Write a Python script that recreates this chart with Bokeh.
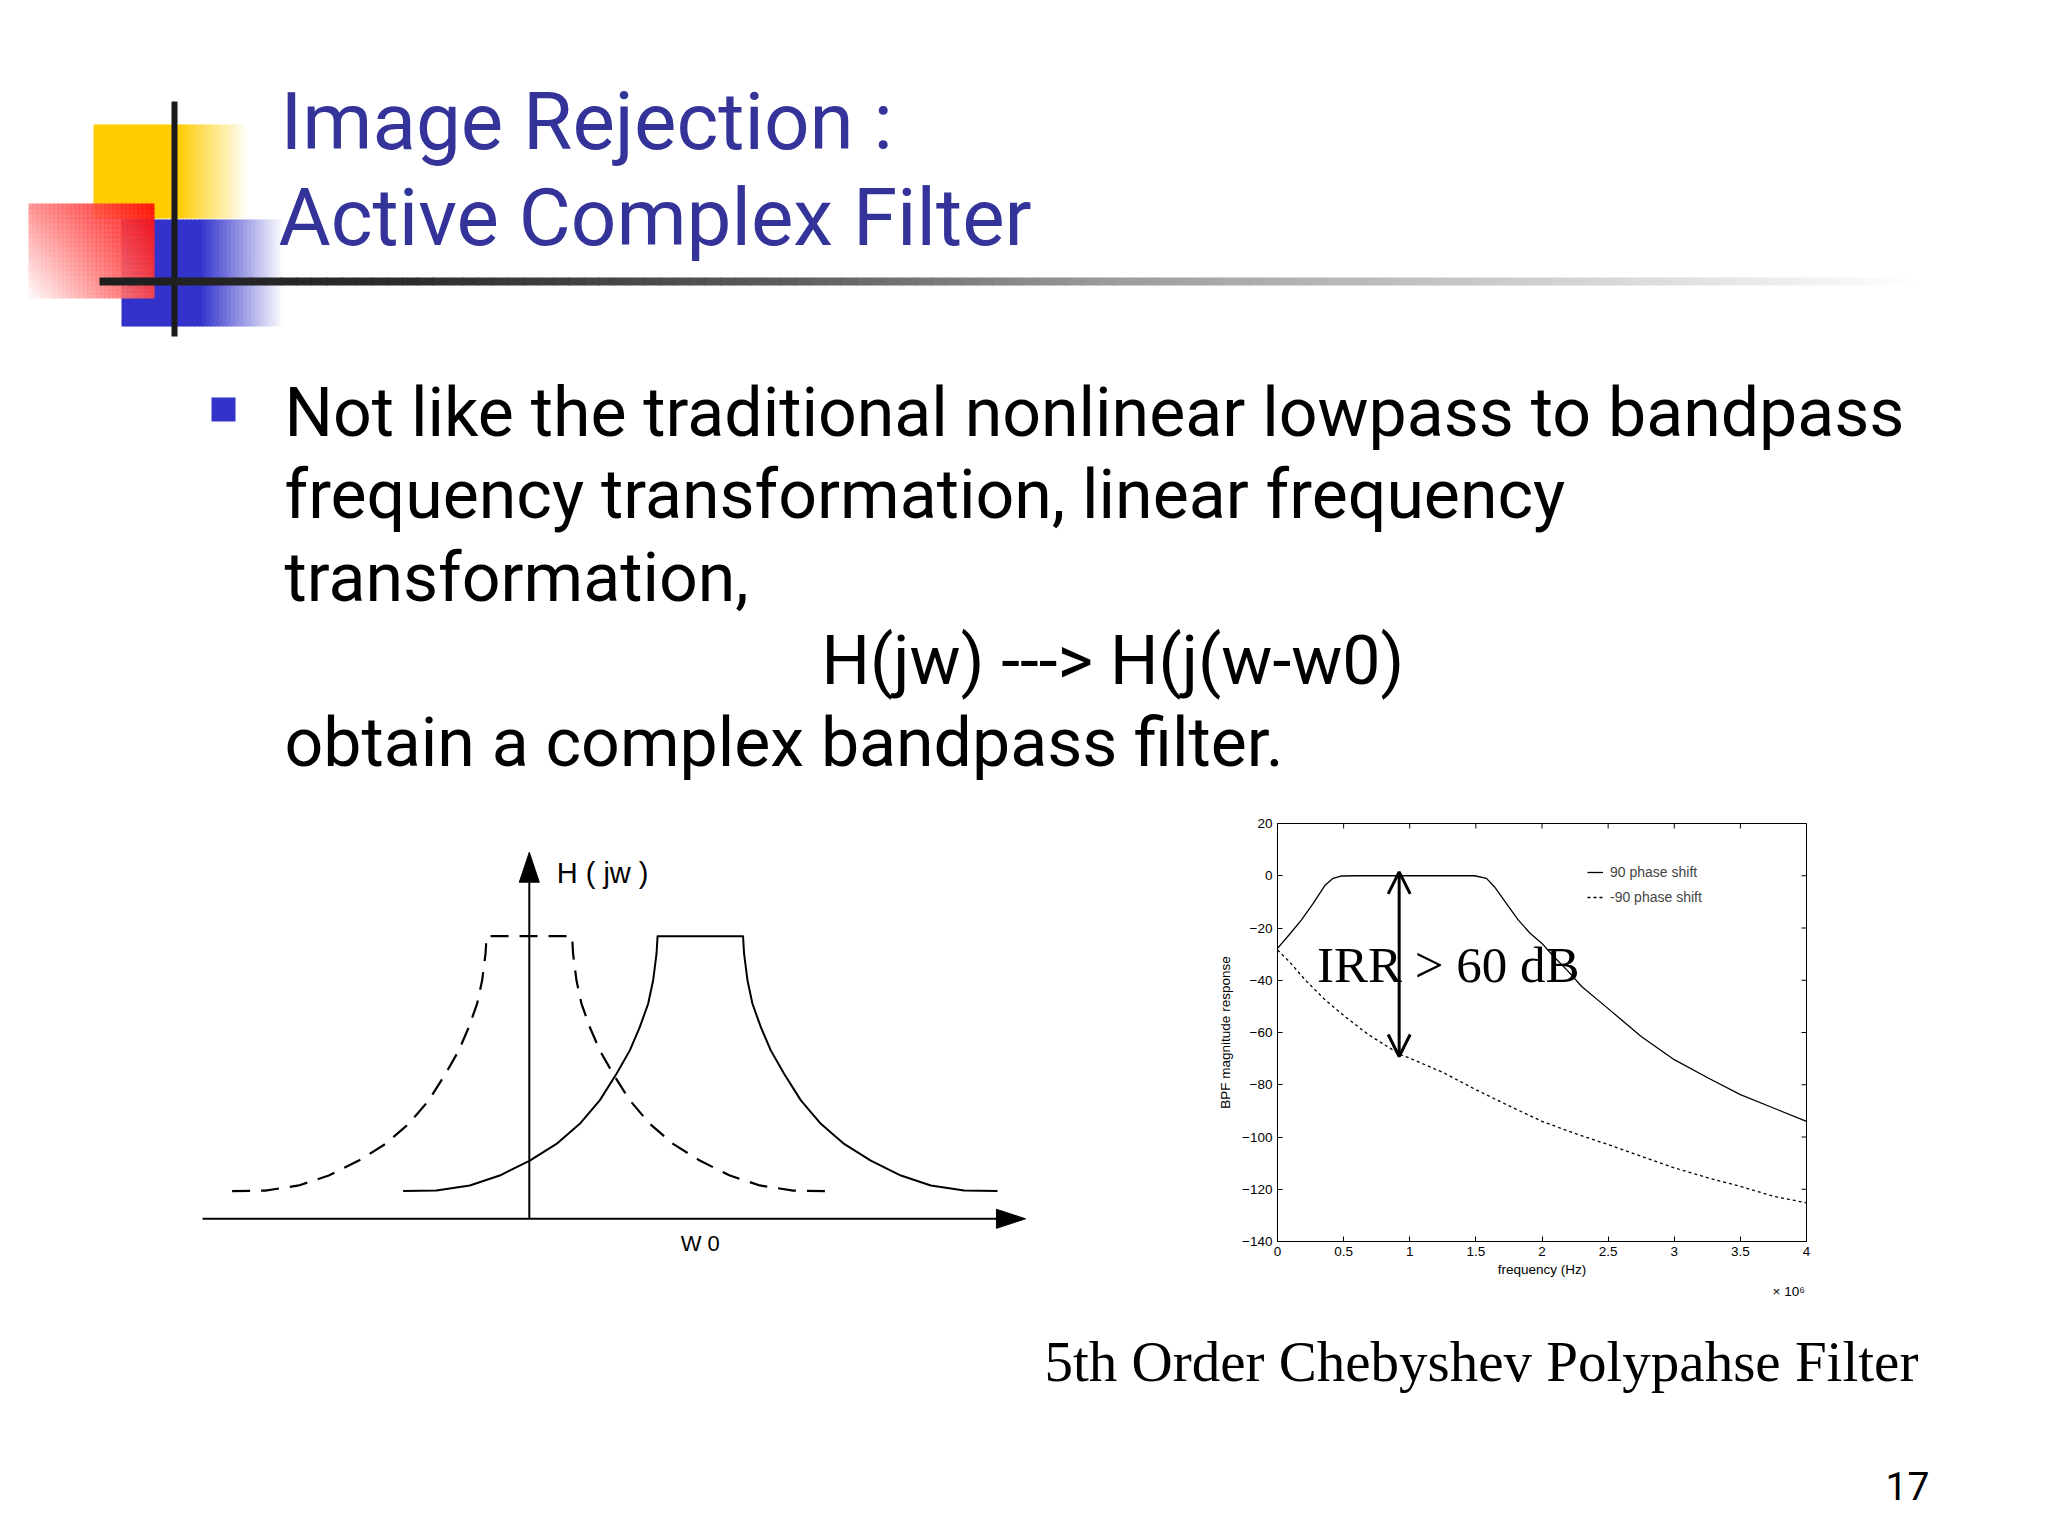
import numpy as np
from bokeh.plotting import figure
from bokeh.layouts import column, row
from bokeh.models import (Range1d, LinearAxis, FixedTicker, Label, Arrow, OpenHead,
                          Legend, LegendItem)
from bokeh.core.properties import value
from bokeh.embed import file_html
from bokeh.resources import INLINE

# ---------------- data ----------------
title_lines = ["Image Rejection :", "Active Complex Filter"]
bullet_lines = ["Not like the traditional nonlinear lowpass to bandpass",
                "frequency transformation, linear frequency",
                "transformation,"]
formula_line = "H(jw) ---> H(j(w-w0)"
last_line = "obtain a complex bandpass filter."
caption = "5th Order Chebyshev Polypahse Filter"
page_no = "17"

# sketch (left): one side of the band shape, offset in units of w0, relative magnitude
profile_offset = [0.250, 0.256, 0.276, 0.305, 0.354, 0.412, 0.490, 0.588, 0.705, 0.841,
                  0.997, 1.173, 1.348, 1.543, 1.738]
profile_mag = [1.0, 0.938, 0.843, 0.761, 0.678, 0.596, 0.513, 0.419, 0.336, 0.265,
               0.206, 0.153, 0.118, 0.100, 0.098]
sketch_centers = {"solid": 1.0, "dashed": 0.0}
sketch_labels = {"y": "H ( jw )", "x": "W 0"}

# measured response (right), frequency in units of 1e6 Hz, magnitude in dB
freq_pos = [0.0, 0.09, 0.18, 0.27, 0.36, 0.42, 0.48, 0.6, 0.8, 1.0, 1.2, 1.4, 1.49, 1.58, 1.64,
            1.73, 1.82, 1.91, 2.0, 2.09, 2.2, 2.3, 2.48, 2.75, 3.0, 3.26, 3.5, 3.75, 4.0]
resp_pos = [-27.8, -22.5, -17.0, -10.6, -3.6, -1.0, -0.1, 0.0, 0.0, 0.0, 0.0, 0.0, 0.0, -1.0, -4.2,
            -10.6, -16.9, -22.0, -25.9, -31.0, -36.7, -42.4, -50.0, -61.5, -70.4, -77.5, -83.8, -88.9, -94.0]
freq_neg = [0.0, 0.09, 0.21, 0.36, 0.51, 0.69, 0.93, 1.0, 1.26, 1.5, 1.76, 2.0, 2.24, 2.5, 2.75,
            3.0, 3.26, 3.5, 3.75, 4.0]
resp_neg = [-28.4, -32.9, -39.9, -47.5, -53.9, -60.9, -68.5, -69.8, -75.5, -81.9, -88.3, -94.0, -98.5,
            -102.9, -107.4, -111.8, -115.7, -118.9, -122.7, -125.2]
series_names = ["90 phase shift", "-90 phase shift"]
x_ticks = [0.0, 0.5, 1.0, 1.5, 2.0, 2.5, 3.0, 3.5, 4.0]
x_tick_labels = ["0", "0.5", "1", "1.5", "2", "2.5", "3", "3.5", "4"]
y_ticks = [-140, -120, -100, -80, -60, -40, -20, 0, 20]
y_tick_labels = ["\u2212140", "\u2212120", "\u2212100", "\u221280", "\u221260", "\u221240", "\u221220", "0", "20"]
x_scale_label = "\u00d7 10\u2076"
irr_freq = 0.92
irr_top, irr_bottom = 1.5, -69.2
irr_text = "IRR > 60 dB"

TITLE_BLUE = "#333399"
SANS = "Roboto"
BASE_SHIFT = 0.36   # alphabetic baseline correction (in em)


def blank(w, h, xr, yr):
    p = figure(width=w, height=h, x_range=Range1d(*xr), y_range=Range1d(*yr),
               output_backend="svg", toolbar_location=None,
               x_axis_location=None, y_axis_location=None,
               min_border=0, min_border_left=0, min_border_right=0,
               min_border_top=0, min_border_bottom=0)
    p.grid.visible = False
    p.outline_line_color = None
    p.background_fill_color = "white"
    p.border_fill_color = "white"
    return p


def mix(c0, c1, t):
    return "#%02x%02x%02x" % tuple(int(round(a + (b - a) * t)) for a, b in zip(c0, c1))


def base(y, size):
    return y - BASE_SHIFT * size


# ---------------- top section (slide pixel coordinates) ----------------
top = blank(2040, 800, (0, 2040), (800, 0))

n = 40
xs = np.linspace(93, 248, n + 1)
cols = []
for i in range(n):
    xm = 0.5 * (xs[i] + xs[i + 1])
    t = 0.0 if xm < 177 else (xm - 177) / (248 - 177)
    cols.append(mix((255, 204, 0), (255, 255, 255), min(1, t)))
top.quad(left=xs[:-1], right=np.minimum(xs[1:] + 1, 248), top=[124] * n, bottom=[218] * n,
         fill_color=cols, line_color=None)

xs = np.linspace(121, 283, n + 1)
cols = []
for i in range(n):
    xm = 0.5 * (xs[i] + xs[i + 1])
    t = 0.0 if xm < 200 else (xm - 200) / (283 - 200)
    cols.append(mix((51, 51, 204), (255, 255, 255), min(1, t)))
top.quad(left=xs[:-1], right=np.minimum(xs[1:] + 1, 283), top=[219] * n, bottom=[326] * n,
         fill_color=cols, line_color=None)

nx, ny = 30, 20
gx = np.linspace(28, 154, nx + 1)
gy = np.linspace(203, 298, ny + 1)
L, R, T, B, C = [], [], [], [], []
for i in range(nx):
    for j in range(ny):
        u = (0.5 * (gx[i] + gx[i + 1]) - 28) / 126
        v = (298 - 0.5 * (gy[j] + gy[j + 1])) / 95
        t = min(1.0, 0.72 * u + 0.45 * v - 0.2 * u * v)
        L.append(gx[i]); R.append(min(gx[i + 1] + 1, 154))
        T.append(gy[j]); B.append(min(gy[j + 1] + 1, 298))
        C.append(mix((255, 252, 252), (255, 0, 0), t))
top.quad(left=L, right=R, top=T, bottom=B, fill_color=C, line_color=None, fill_alpha=0.88)

top.segment(x0=[174], y0=[101], x1=[174], y1=[336], line_color="#1a1a1a", line_width=6)

stops_x = [99, 420, 800, 1100, 1440, 1680, 1915]
stops_c = [30, 45, 95, 154, 196, 224, 255]
nb = 120
bx = np.linspace(99, 1915, nb + 1)
bc = []
for i in range(nb):
    g = np.interp(0.5 * (bx[i] + bx[i + 1]), stops_x, stops_c)
    bc.append(mix((g, g, g), (g, g, g), 0))
top.quad(left=bx[:-1], right=np.minimum(bx[1:] + 1, 1915), top=[277] * nb, bottom=[285] * nb,
         fill_color=bc, line_color=None)

top.text(x=[280, 278], y=[base(150, 80), base(246, 80)], text=title_lines, text_font=value(SANS),
         text_font_size="80px", text_color=TITLE_BLUE, text_baseline="alphabetic")

top.quad(left=[211], right=[235], top=[397], bottom=[421], fill_color="#3333cc", line_color=None)
top.text(x=[284, 284, 284], y=[base(437, 68), base(519, 68), base(602, 68)], text=bullet_lines,
         text_font=value(SANS), text_font_size="68px", text_color="black", text_baseline="alphabetic")
top.text(x=[821], y=[base(685, 68)], text=[formula_line], text_font=value(SANS),
         text_font_size="68px", text_color="black", text_baseline="alphabetic")
top.text(x=[284], y=[base(767, 68)], text=[last_line], text_font=value(SANS),
         text_font_size="68px", text_color="black", text_baseline="alphabetic")

# ---------------- left sketch ----------------
# frame matches the right chart's frame (823..1241 px) because the row aligns frames
left = figure(width=1150, height=510, x_range=Range1d(-3.0924, 3.6327), y_range=Range1d(-0.0803, 1.3988),
              output_backend="svg", toolbar_location=None, y_axis_location=None,
              min_border_left=0, min_border_right=0, min_border_top=23, min_border_bottom=69)
left.grid.visible = False
left.outline_line_color = None
left.background_fill_color = "white"
left.border_fill_color = "white"
lx = left.xaxis[0]
lx.ticker = FixedTicker(ticks=[sketch_centers["solid"]])
lx.major_label_overrides = {sketch_centers["solid"]: sketch_labels["x"]}
lx.axis_line_color = None
lx.major_tick_line_color = None
lx.minor_tick_line_color = None
lx.major_label_standoff = -17
lx.major_label_text_font = "Liberation Sans"
lx.major_label_text_font_size = "22px"
lx.major_label_text_color = "black"


def band(center):
    xs_ = [center - o for o in reversed(profile_offset)] + [center + o for o in profile_offset]
    ys_ = list(reversed(profile_mag)) + list(profile_mag)
    return xs_, ys_


dx, dy = band(sketch_centers["dashed"])
left.line(dx, dy, line_color="black", line_width=2.2, line_dash="18 11", line_join="round")
sx, sy = band(sketch_centers["solid"])
left.line(sx, sy, line_color="black", line_width=2, line_join="round")

h_axis_start, h_axis_head, h_axis_tip = -1.911, 2.732, 2.902
v_axis_head, v_axis_tip = 1.191, 1.297
left.line([h_axis_start, h_axis_head], [0, 0], line_color="black", line_width=2)
left.patch([h_axis_head, h_axis_tip, h_axis_head], [0.0336, 0, -0.0336], fill_color="black", line_color="black")
left.line([0, 0], [0, v_axis_head], line_color="black", line_width=2)
left.patch([-0.0585, 0, 0.0585], [v_axis_head, v_axis_tip, v_axis_head], fill_color="black", line_color="black")
left.text(x=[0.16], y=[1.282], text=[sketch_labels["y"]], text_font=value("Liberation Sans"),
          text_font_size="29px", text_color="black", text_baseline="top")

# ---------------- right chart ----------------
rp = figure(width=890, height=510, x_range=Range1d(0, 4), y_range=Range1d(-140, 20),
            output_backend="svg", toolbar_location=None,
            min_border_left=127, min_border_right=234, min_border_top=23, min_border_bottom=69)
rp.background_fill_color = "white"
rp.border_fill_color = "white"
rp.grid.visible = False
rp.outline_line_color = "black"
rp.outline_line_width = 1

r1 = rp.line(freq_pos, resp_pos, line_color="black", line_width=1.3)
r2 = rp.line(freq_neg, resp_neg, line_color="black", line_width=1.3, line_dash="3 3")

for ax in (rp.xaxis[0], rp.yaxis[0]):
    ax.major_tick_in = 5
    ax.major_tick_out = 0
    ax.minor_tick_line_color = None
    ax.axis_line_color = "black"
    ax.major_label_text_font = "Liberation Sans"
    ax.major_label_text_font_size = "13.5px"
    ax.major_label_text_color = "black"
    ax.axis_label_text_font = "Liberation Sans"
    ax.axis_label_text_font_size = "13.5px"
    ax.axis_label_text_font_style = "normal"
    ax.axis_label_text_color = "black"

rp.xaxis[0].ticker = FixedTicker(ticks=x_ticks)
rp.xaxis[0].major_label_overrides = dict(zip(x_ticks, x_tick_labels))
rp.xaxis[0].axis_label = "frequency (Hz)"
rp.xaxis[0].major_label_standoff = 5
rp.xaxis[0].axis_label_standoff = 3
rp.yaxis[0].ticker = FixedTicker(ticks=y_ticks)
rp.yaxis[0].major_label_overrides = dict(zip([float(v) for v in y_ticks], y_tick_labels))
rp.yaxis[0].axis_label = "BPF magnitude response"
rp.yaxis[0].major_label_standoff = 5
rp.yaxis[0].axis_label_standoff = 6

scale_axis = LinearAxis(ticker=FixedTicker(ticks=[3.865]), major_label_overrides={3.865: x_scale_label},
                        axis_line_color=None, major_tick_line_color=None, minor_tick_line_color=None,
                        major_label_standoff=-2, major_label_text_font="Liberation Sans",
                        major_label_text_font_size="13.5px", major_label_text_color="black")
rp.add_layout(scale_axis, "below")

tick_dx = 5 / (529 / 4.0)
tick_dy = 5 / (418 / 160.0)
rp.segment(x0=[4.0] * len(y_ticks), x1=[4.0 - tick_dx] * len(y_ticks), y0=y_ticks, y1=y_ticks,
           line_color="black", line_width=1)
rp.segment(x0=x_ticks, x1=x_ticks, y0=[20.0] * len(x_ticks), y1=[20.0 - tick_dy] * len(x_ticks),
           line_color="black", line_width=1)

legend = Legend(items=[LegendItem(label=series_names[0], renderers=[r1]),
                       LegendItem(label=series_names[1], renderers=[r2])],
                location=(310, 334), padding=0, margin=0, spacing=5,
                glyph_width=16, glyph_height=20, label_height=20, label_standoff=7,
                border_line_color=None, background_fill_alpha=0,
                label_text_font="Liberation Sans", label_text_font_size="14px")
rp.add_layout(legend)

rp.add_layout(Arrow(start=OpenHead(size=22, line_width=3), end=OpenHead(size=22, line_width=3),
                    x_start=irr_freq, y_start=irr_bottom, x_end=irr_freq, y_end=irr_top,
                    line_width=3, line_color="black"))
irr_shift_db = BASE_SHIFT * 51 / (418 / 160.0)
rp.add_layout(Label(x=0.299, y=-41.1 + irr_shift_db, text=irr_text, text_font="Liberation Serif",
                    text_font_size="51px", text_color="black", text_baseline="alphabetic"))

# ---------------- bottom ----------------
bottom = blank(2040, 218, (0, 2040), (1528, 1310))
bottom.text(x=[1044], y=[base(1382, 57)], text=[caption], text_font=value("Liberation Serif"),
            text_font_size="57px", text_color="black", text_baseline="alphabetic")
bottom.text(x=[1885], y=[base(1500, 39)], text=[page_no], text_font=value(SANS),
            text_font_size="39px", text_color="black", text_baseline="alphabetic")

layout = column(top, row(left, rp, spacing=0), bottom, spacing=0)
open("out.html", "w").write(file_html(layout, INLINE))
